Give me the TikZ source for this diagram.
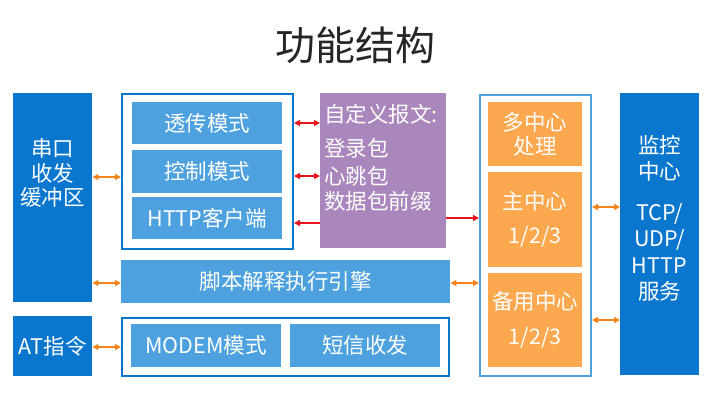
\documentclass[tikz,border=0pt]{standalone}
\usepackage{fontspec}
\setmainfont{Noto Sans CJK SC}
\usetikzlibrary{arrows.meta}
\definecolor{dblue}{HTML}{0A76CD}
\definecolor{lblue}{HTML}{4EA1DF}
\definecolor{purp}{HTML}{A987BC}
\definecolor{orbox}{HTML}{FBA84E}
\definecolor{orarrow}{HTML}{F5841F}
\definecolor{redarrow}{HTML}{E8141B}
\begin{document}
\begin{tikzpicture}[x=1pt,y=-1pt,
  box/.style={anchor=north west, inner sep=0pt, text=white, font=\fontsize{21.5}{26}\selectfont, align=center},
  btext/.style={inner sep=0pt, text=white, font=\fontsize{21.5}{26}\selectfont},
  frame/.style={anchor=north west, inner sep=0pt, draw, line width=2pt},
  oarrow/.style={draw=orarrow, line width=1.3pt, {Triangle[length=6pt,width=6pt]}-{Triangle[length=6pt,width=6pt]}},
  rarrow/.style={draw=redarrow, line width=1.3pt, {Triangle[length=6pt,width=6pt]}-{Triangle[length=6pt,width=6pt]}},
  rarrowr/.style={draw=redarrow, line width=1.3pt, -{Triangle[length=6pt,width=6pt]}}]
\useasboundingbox[fill=white] (0,0) rectangle (710,413);
\node[font=\fontsize{40}{48}\selectfont, text=black!85] (title) at (355,45) {功能结构};
% left column
\node[box, fill=dblue, minimum width=79pt, minimum height=209pt] (serial) at (13,93) {};
\node[btext, align=center] (serialtext) at (52.5,173) {串口\\[-1pt]收发\\[-2pt]缓冲区};
\node[box, fill=dblue, minimum width=79pt, minimum height=60pt] (at) at (13,316) {AT指令};
% frame 1
\node[frame, draw=dblue, minimum width=171pt, minimum height=155pt] (frame1) at (121,93) {};
\node[box, fill=lblue, minimum width=150pt, minimum height=42pt] (tc) at (132,102) {透传模式};
\node[box, fill=lblue, minimum width=150pt, minimum height=43pt] (ctrl) at (132,150) {控制模式};
\node[box, fill=lblue, minimum width=150pt, minimum height=42pt] (http) at (132,197) {HTTP客户端};
% purple
\node[box, fill=purp, minimum width=126pt, minimum height=155pt] (purple) at (320,93) {};
\node[btext, anchor=north west, align=left] (ptext) at (324,104) {自定义报文:\\[8pt]登录包\\[2pt]心跳包\\[-1pt]数据包前缀};
% script engine
\node[box, fill=lblue, minimum width=329pt, minimum height=43pt] (script) at (121,260) {脚本解释执行引擎};
% bottom frame
\node[frame, draw=dblue, minimum width=327pt, minimum height=58pt] (frame2) at (121,317) {};
\node[box, fill=lblue, minimum width=150pt, minimum height=43pt] (modem) at (131,324) {MODEM模式};
\node[box, fill=lblue, minimum width=150pt, minimum height=43pt] (sms) at (290,324) {短信收发};
% right frame
\node[frame, draw=lblue, minimum width=111pt, minimum height=281pt] (frame3) at (479,94) {};
\node[box, fill=orbox, minimum width=94pt, minimum height=64pt] (multi) at (488,102) {多中心\\[-2pt]处理};
\node[box, fill=orbox, minimum width=94pt, minimum height=95pt] (main) at (488,172) {主中心\\[8pt]1/2/3};
\node[box, fill=orbox, minimum width=94pt, minimum height=94pt] (backup) at (488,273) {备用中心\\[9pt]1/2/3};
% monitor
\node[box, fill=dblue, minimum width=79pt, minimum height=282pt] (monitor) at (620,93) {};
\node[btext, anchor=north, align=center, font=\fontsize{21.5}{26.5}\selectfont] (mtext) at (659.5,135) {监控\\中心\\[14pt]TCP/\\UDP/\\HTTP\\服务};
% arrows
\coordinate (y177) at (0,177);
\coordinate (y283) at (0,283);
\coordinate (y347) at (0,347);
\coordinate (y123) at (0,123);
\coordinate (y176) at (0,176);
\coordinate (y223) at (0,223);
\coordinate (y218) at (0,218);
\coordinate (y207) at (0,207);
\coordinate (y320) at (0,320);
\draw[oarrow] (serial.east |- y177) -- (frame1.west |- y177);
\draw[oarrow] (serial.east |- y283) -- (script.west |- y283);
\draw[oarrow] (at.east |- y347) -- (frame2.west |- y347);
\draw[oarrow] (script.east |- y283) -- (frame3.west |- y283);
\draw[rarrow] (frame1.east |- y123) -- (purple.west |- y123);
\draw[rarrow] (frame1.east |- y176) -- (purple.west |- y176);
\draw[rarrowr] (purple.west |- y223) -- (frame1.east |- y223);
\draw[rarrowr] (purple.east |- y218) -- (frame3.west |- y218);
\draw[oarrow] (frame3.east |- y207) -- (monitor.west |- y207);
\draw[oarrow] (frame3.east |- y320) -- (monitor.west |- y320);
\end{tikzpicture}
\end{document}
